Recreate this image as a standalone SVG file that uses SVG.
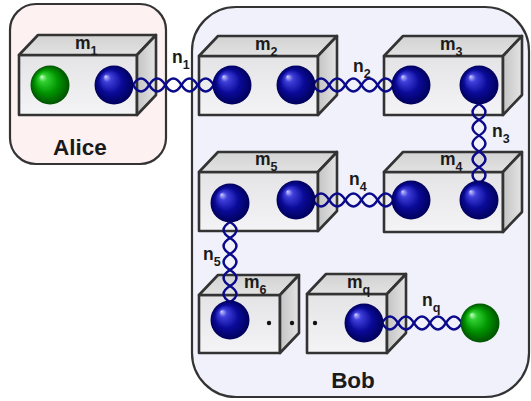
<svg xmlns="http://www.w3.org/2000/svg" xmlns:xlink="http://www.w3.org/1999/xlink" width="531" height="401" viewBox="0 0 531 401">
<style>
.frame{stroke:#333;stroke-width:2.2}
.front{fill:url(#gFront);stroke:#333;stroke-width:2.6;stroke-linejoin:round}
.top{fill:url(#gTop);stroke:#333;stroke-width:2.6;stroke-linejoin:round}
.side{fill:url(#gSide);stroke:#333;stroke-width:2.6;stroke-linejoin:round}
.helix{fill:none;stroke:#0a0a8a;stroke-width:2.5}
.lbl{font-family:"Liberation Sans",Arial,sans-serif;font-weight:bold;font-size:17.5px;fill:#1a1a1a}
.sub{font-size:12.5px}
.big{font-family:"Liberation Sans",Arial,sans-serif;font-weight:bold;font-size:22.5px;fill:#1a1a1a;text-anchor:middle}
.dot{fill:#111}
</style>
<defs>
<linearGradient id="gFront" x1="0" y1="0" x2="0" y2="1"><stop offset="0" stop-color="#e4e4e6"/><stop offset="1" stop-color="#f4f4f6"/></linearGradient>
<linearGradient id="gTop" x1="0" y1="0" x2="0" y2="1"><stop offset="0" stop-color="#d2d2d2"/><stop offset="1" stop-color="#e2e2e2"/></linearGradient>
<linearGradient id="gSide" x1="0" y1="0" x2="1" y2="0"><stop offset="0" stop-color="#c4c4c4"/><stop offset="1" stop-color="#e4e4e4"/></linearGradient>
<radialGradient id="gBlue" cx="0.5" cy="0.5" r="0.5" fx="0.28" fy="0.28"><stop offset="0" stop-color="#d0d0ff"/><stop offset="0.2" stop-color="#4040dc"/><stop offset="0.6" stop-color="#0a0a98"/><stop offset="1" stop-color="#00005a"/></radialGradient>
<radialGradient id="gGreen" cx="0.5" cy="0.5" r="0.5" fx="0.28" fy="0.28"><stop offset="0" stop-color="#d0ffd0"/><stop offset="0.2" stop-color="#30d030"/><stop offset="0.6" stop-color="#009400"/><stop offset="1" stop-color="#005200"/></radialGradient>
<g id="hx">
<path class="helix" d="M0,0 c5.67,-8.6 11.33,-8.6 17,0 c5.67,8.6 11.33,8.6 17,0 c5.67,-8.6 11.33,-8.6 17,0 c5.67,8.6 11.33,8.6 17,0 c5.67,-8.6 11.33,-8.6 17,0"/>
<path class="helix" d="M0,0 c5.67,8.6 11.33,8.6 17,0 c5.67,-8.6 11.33,-8.6 17,0 c5.67,8.6 11.33,8.6 17,0 c5.67,-8.6 11.33,-8.6 17,0 c5.67,8.6 11.33,8.6 17,0"/>
</g>
</defs>

<g id="alice">
<rect class="frame" x="10" y="4" width="156" height="160" rx="26" fill="#fdf1f1"/>
<text class="big" x="80" y="155">Alice</text>
</g>
<g id="bob">
<rect class="frame" x="192" y="7" width="337" height="390" rx="44" fill="#f1f1fc"/>
<text class="big" x="353" y="388">Bob</text>
</g>

<g id="m1">
<rect class="front" x="19" y="55" width="118" height="60"/>
<polygon class="top" points="19,55 38,35 156,35 137,55"/>
<polygon class="side" points="137,55 156,35 156,95 137,115"/>
<text class="lbl" x="75" y="49">m<tspan class="sub" dy="6">1</tspan></text>
</g>
<g id="m2">
<rect class="front" x="199" y="56" width="119" height="59"/>
<polygon class="top" points="199,56 218,36 337,36 318,56"/>
<polygon class="side" points="318,56 337,36 337,95 318,115"/>
<text class="lbl" x="255" y="50">m<tspan class="sub" dy="6">2</tspan></text>
</g>
<g id="m3">
<rect class="front" x="384" y="56" width="119" height="59"/>
<polygon class="top" points="384,56 403,36 522,36 503,56"/>
<polygon class="side" points="503,56 522,36 522,95 503,115"/>
<text class="lbl" x="440" y="50">m<tspan class="sub" dy="6">3</tspan></text>
</g>
<g id="m4">
<rect class="front" x="384" y="172" width="119" height="60"/>
<polygon class="top" points="384,172 403,152 522,152 503,172"/>
<polygon class="side" points="503,172 522,152 522,212 503,232"/>
<text class="lbl" x="440" y="165">m<tspan class="sub" dy="6">4</tspan></text>
</g>
<g id="m5">
<rect class="front" x="199" y="172" width="119" height="59"/>
<polygon class="top" points="199,172 218,152 337,152 318,172"/>
<polygon class="side" points="318,172 337,152 337,211 318,231"/>
<text class="lbl" x="255" y="165">m<tspan class="sub" dy="6">5</tspan></text>
</g>
<g id="m6">
<rect class="front" x="199" y="295" width="81" height="58"/>
<polygon class="top" points="199,295 218,275 299,275 280,295"/>
<polygon class="side" points="280,295 299,275 299,333 280,353"/>
<text class="lbl" x="244" y="288">m<tspan class="sub" dy="6">6</tspan></text>
<circle class="dot" cx="269" cy="323" r="2.2"/>
<circle class="dot" cx="292" cy="323" r="2.2"/>
</g>
<g id="mq">
<rect class="front" x="307" y="294" width="80" height="59"/>
<polygon class="top" points="307,294 326,274 406,274 387,294"/>
<polygon class="side" points="387,294 406,274 406,333 387,353"/>
<text class="lbl" x="347" y="288">m<tspan class="sub" dy="6">q</tspan></text>
<circle class="dot" cx="315" cy="323" r="2.2"/>
</g>

<g id="connectors">
<use xlink:href="#hx" href="#hx" transform="translate(133,85) scale(0.95,1)"/>
<use xlink:href="#hx" href="#hx" transform="translate(313,85) scale(0.95,1)"/>
<use xlink:href="#hx" href="#hx" transform="translate(479,104) rotate(90) scale(0.93,1)"/>
<use xlink:href="#hx" href="#hx" transform="translate(313,200) scale(0.95,1)"/>
<use xlink:href="#hx" href="#hx" transform="translate(230,222) rotate(90) scale(0.94,1)"/>
<use xlink:href="#hx" href="#hx" transform="translate(382,323) scale(0.94,1)"/>
<text class="lbl" x="172" y="63">n<tspan class="sub" dy="6">1</tspan></text>
<text class="lbl" x="353" y="72">n<tspan class="sub" dy="6">2</tspan></text>
<text class="lbl" x="492" y="137">n<tspan class="sub" dy="6">3</tspan></text>
<text class="lbl" x="349" y="185">n<tspan class="sub" dy="6">4</tspan></text>
<text class="lbl" x="203" y="260">n<tspan class="sub" dy="6">5</tspan></text>
<text class="lbl" x="422" y="306">n<tspan class="sub" dy="6">q</tspan></text>
</g>

<g id="spheres">
<circle cx="50" cy="85" r="19.5" fill="url(#gGreen)"/>
<circle cx="114" cy="85" r="19.5" fill="url(#gBlue)"/>
<circle cx="232" cy="85" r="19.5" fill="url(#gBlue)"/>
<circle cx="296" cy="85" r="19.5" fill="url(#gBlue)"/>
<circle cx="411" cy="85" r="19.5" fill="url(#gBlue)"/>
<circle cx="479" cy="85" r="19.5" fill="url(#gBlue)"/>
<circle cx="411" cy="200" r="19.5" fill="url(#gBlue)"/>
<circle cx="479" cy="200" r="19.5" fill="url(#gBlue)"/>
<circle cx="230" cy="203" r="19.5" fill="url(#gBlue)"/>
<circle cx="296" cy="200" r="19.5" fill="url(#gBlue)"/>
<circle cx="230" cy="320" r="19.5" fill="url(#gBlue)"/>
<circle cx="364" cy="323" r="19.5" fill="url(#gBlue)"/>
<circle cx="480" cy="323" r="19.5" fill="url(#gGreen)"/>
</g>
</svg>
